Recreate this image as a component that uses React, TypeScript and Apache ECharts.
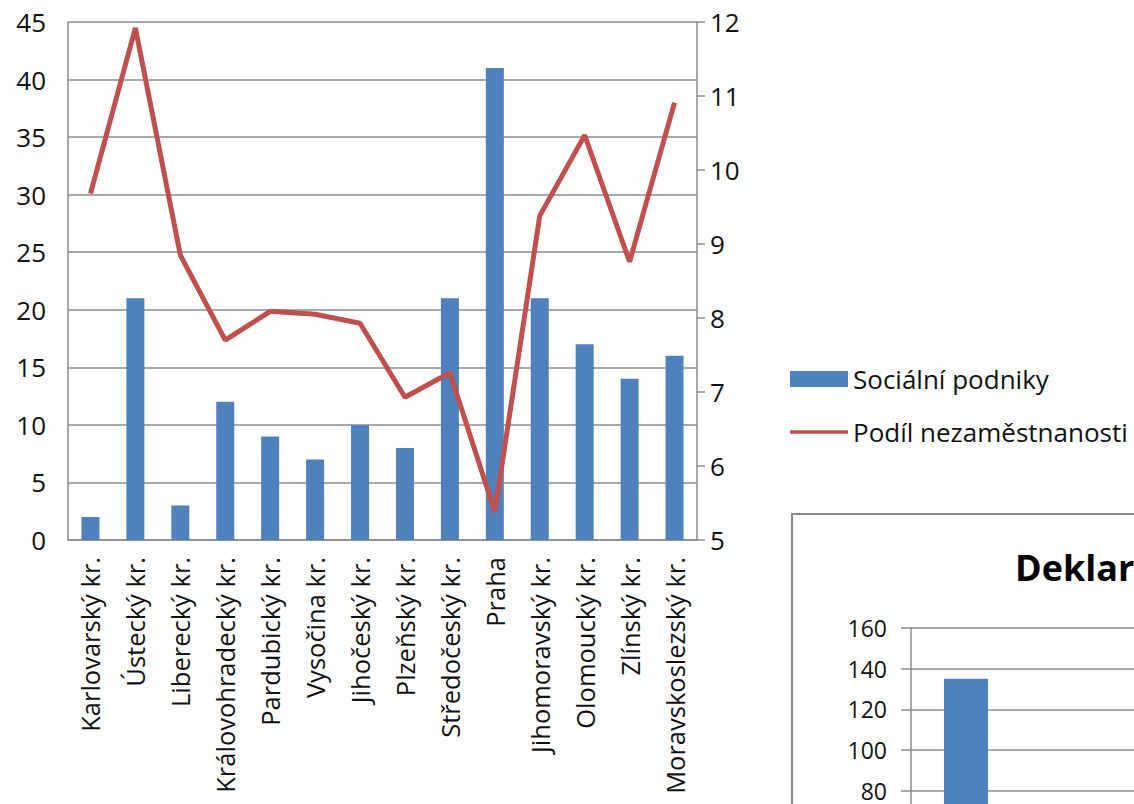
import React, { useEffect, useRef } from "react";
import * as echarts from "echarts";

const categories = [
  "Karlovarský kr.",
  "Ústecký kr.",
  "Liberecký kr.",
  "Královohradecký kr.",
  "Pardubický kr.",
  "Vysočina kr.",
  "Jihočeský kr.",
  "Plzeňský kr.",
  "Středočeský kr.",
  "Praha",
  "Jihomoravský kr.",
  "Olomoucký kr.",
  "Zlínský kr.",
  "Moravskoslezský kr.",
];
const socialniPodniky = [2, 21, 3, 12, 9, 7, 10, 8, 21, 41, 21, 17, 14, 16];
const podilNezamestnanosti = [9.68, 11.92, 8.85, 7.7, 8.09, 8.05, 7.93, 6.93, 7.26, 5.38, 9.38, 10.47, 8.76, 10.91];

const secondCategories = ["", "", "", ""];
const secondValues = [135];
const secondTitle = "Deklar";
const secondVisibleMin = 80;

const FONT = "'Open Sans', 'Noto Sans', sans-serif";
const GRID_COLOR = "#8c8c8c";
const TEXT = "#111";

export default function App() {
  const ref = useRef<HTMLDivElement>(null);
  useEffect(() => {
    if (!ref.current) return;
    const chart = echarts.init(ref.current, null, { renderer: "svg" });
    chart.setOption({
      animation: false,
      backgroundColor: "#fff",
      textStyle: { fontFamily: FONT },
      legend: {
        orient: "vertical",
        left: 785,
        top: 361,
        itemWidth: 58,
        itemHeight: 16,
        itemGap: 27,
        textStyle: { fontFamily: FONT, fontSize: 26, color: TEXT },
        data: [
          { name: "Sociální podniky", icon: "rect" },
          {
            name: "Podíl nezaměstnanosti",
            icon: "path://M0 0 L0.01 0 M0 6.2 L58 6.2 L58 9.8 L0 9.8 Z M0 16 L0.01 16",
          },
        ],
      },
      title: {
        text: secondTitle,
        left: 1010,
        top: 544,
        textStyle: { fontFamily: FONT, fontSize: 36, fontWeight: "bold", color: "#000" },
      },
      graphic: [
        {
          type: "rect",
          shape: { x: 792, y: 514, width: 400, height: 400 },
          style: { fill: "none", stroke: "#8a8a8a", lineWidth: 2 },
          z: -1,
        },
      ],
      grid: [
        { left: 68, right: 437, top: 22, bottom: 264, outerBoundsMode: "none" },
        { left: 911, top: 628, width: 440, height: 325, outerBoundsMode: "none" },
      ],
      xAxis: [
        {
          type: "category",
          gridIndex: 0,
          data: categories,
          axisLine: { lineStyle: { color: GRID_COLOR, width: 1.5 } },
          axisTick: { show: false },
          axisLabel: {
            rotate: 90,
            interval: 0,
            fontFamily: FONT,
            fontSize: 25.5,
            color: TEXT,
            margin: 17,
          },
        },
        {
          type: "category",
          gridIndex: 1,
          data: secondCategories,
          axisLine: { lineStyle: { color: GRID_COLOR, width: 1.5 } },
          axisTick: { show: false },
          axisLabel: { show: false },
        },
      ],
      yAxis: [
        {
          type: "value",
          gridIndex: 0,
          min: 0,
          max: 45,
          interval: 5,
          axisLine: { show: true, lineStyle: { color: GRID_COLOR, width: 1.5 } },
          axisTick: { show: false },
          splitLine: { lineStyle: { color: GRID_COLOR, width: 1.5 } },
          axisLabel: { fontFamily: FONT, fontSize: 26, color: TEXT, margin: 22 },
        },
        {
          type: "value",
          gridIndex: 0,
          position: "right",
          min: 5,
          max: 12,
          interval: 1,
          axisLine: { show: true, lineStyle: { color: GRID_COLOR, width: 1.5 } },
          axisTick: { show: true, length: 8, lineStyle: { color: GRID_COLOR, width: 1.5 } },
          splitLine: { show: false },
          axisLabel: { fontFamily: FONT, fontSize: 26, color: TEXT, margin: 13 },
        },
        {
          type: "value",
          gridIndex: 1,
          min: 0,
          max: 160,
          interval: 20,
          axisLine: { show: true, lineStyle: { color: GRID_COLOR, width: 1.5 } },
          axisTick: { show: true, length: 10, inside: false, lineStyle: { color: GRID_COLOR, width: 1.5 } },
          splitLine: { lineStyle: { color: GRID_COLOR, width: 1.5 } },
          axisLabel: {
            fontFamily: FONT,
            fontSize: 23,
            color: TEXT,
            margin: 24,
            formatter: (v: number) => (v >= secondVisibleMin ? String(v) : ""),
          },
        },
      ],
      series: [
        {
          name: "Sociální podniky",
          type: "bar",
          xAxisIndex: 0,
          yAxisIndex: 0,
          data: socialniPodniky,
          barWidth: 18,
          itemStyle: { color: "#4f81bd" },
        },
        {
          name: "Podíl nezaměstnanosti",
          type: "line",
          xAxisIndex: 0,
          yAxisIndex: 1,
          data: podilNezamestnanosti,
          symbol: "none",
          showSymbol: false,
          lineStyle: { color: "#c0504d", width: 5 },
          itemStyle: { color: "#c0504d" },
        },
        {
          name: "second",
          type: "bar",
          xAxisIndex: 1,
          yAxisIndex: 2,
          data: secondValues,
          barWidth: 44,
          itemStyle: { color: "#4f81bd" },
        },
      ],
    });
    return () => chart.dispose();
  }, []);
  return (
    <div
      ref={ref}
      style={{ position: "fixed", left: 0, top: 0, width: 1134, height: 804, overflow: "hidden" }}
    />
  );
}
